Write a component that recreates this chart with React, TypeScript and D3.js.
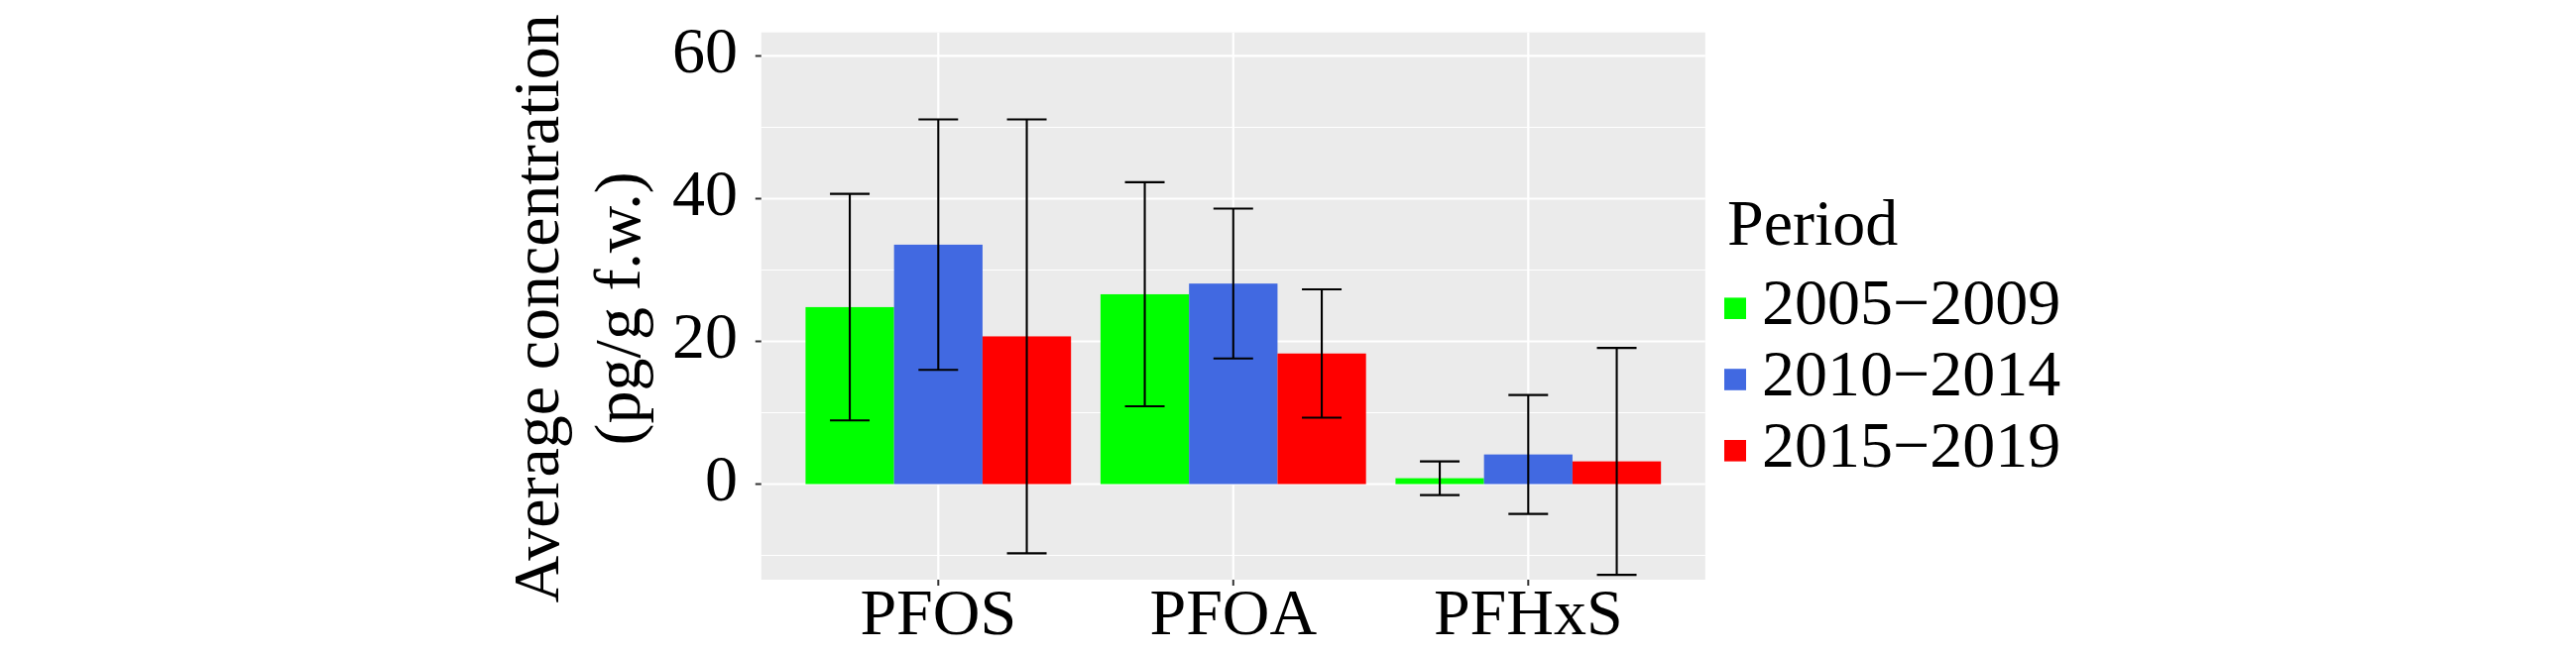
import React, { useEffect, useRef } from 'react';
import * as d3 from 'd3';

const compounds = ['PFOS', 'PFOA', 'PFHxS'];
const periods = ['2005\u22122009', '2010\u22122014', '2015\u22122019'];
const periodColors = ['#00FF00', '#4169E1', '#FF0000'];

// mean concentration per compound, one array per period
const mean2005 = [24.8, 26.6, 0.82];
const mean2010 = [33.55, 28.1, 4.15];
const mean2015 = [20.7, 18.3, 3.18];

// standard deviation (error bars are mean +/- sd)
const sd2005 = [15.87, 15.7, 2.36];
const sd2010 = [17.55, 10.5, 8.33];
const sd2015 = [30.4, 9.0, 15.9];

const yMajorTicks = [0, 20, 40, 60];
const yMinorTicks = [-10, 10, 30, 50];

const App: React.FC = () => {
    const ref = useRef<SVGSVGElement>(null);

    useEffect(() => {
        const svg = d3.select(ref.current);
        svg.selectAll('*').remove();

        const font = '"Liberation Serif", "Times New Roman", Times, serif';
        const fs = 66;

        const left = 767.8, right = 1719.8, top = 32.7, bottom = 585;

        const means = [mean2005, mean2010, mean2015];
        const sds = [sd2005, sd2010, sd2015];
        const rows = compounds.flatMap((c, ci) =>
            periods.map((p, pi) => ({ compound: c, period: p, pi, mean: means[pi][ci], sd: sds[pi][ci] })));

        const x = d3.scaleBand<string>().domain(compounds).range([left, right])
            .paddingInner(0.1).paddingOuter(0.15);
        const xSub = d3.scaleBand<string>().domain(periods).range([0, x.bandwidth()]);
        const y = d3.scaleLinear().domain([-13.4, 63.3]).range([bottom, top]);

        // panel
        svg.append('rect')
            .attr('x', left).attr('y', top)
            .attr('width', right - left).attr('height', bottom - top)
            .attr('fill', '#EBEBEB');

        svg.append('g').selectAll('line').data(yMinorTicks).enter().append('line')
            .attr('x1', left).attr('x2', right)
            .attr('y1', d => y(d)).attr('y2', d => y(d))
            .attr('stroke', '#fff').attr('stroke-width', 1.1);

        svg.append('g').selectAll('line').data(yMajorTicks).enter().append('line')
            .attr('x1', left).attr('x2', right)
            .attr('y1', d => y(d)).attr('y2', d => y(d))
            .attr('stroke', '#fff').attr('stroke-width', 2.2);

        svg.append('g').selectAll('line').data(compounds).enter().append('line')
            .attr('x1', d => x(d)! + x.bandwidth() / 2).attr('x2', d => x(d)! + x.bandwidth() / 2)
            .attr('y1', top).attr('y2', bottom)
            .attr('stroke', '#fff').attr('stroke-width', 2.2);

        // bars
        svg.append('g').selectAll('rect').data(rows).enter().append('rect')
            .attr('x', d => x(d.compound)! + xSub(d.period)!)
            .attr('width', xSub.bandwidth())
            .attr('y', d => y(d.mean))
            .attr('height', d => y(0) - y(d.mean))
            .attr('fill', d => periodColors[d.pi]);

        // error bars
        const capHalf = xSub.bandwidth() * 0.224;
        const eb = svg.append('g').selectAll('g').data(rows).enter().append('g')
            .attr('stroke', '#000').attr('stroke-width', 2.1);
        const cx = (d: any) => x(d.compound)! + xSub(d.period)! + xSub.bandwidth() / 2;
        eb.append('line')
            .attr('x1', cx).attr('x2', cx)
            .attr('y1', d => y(d.mean + d.sd)).attr('y2', d => y(d.mean - d.sd));
        eb.append('line')
            .attr('x1', d => cx(d) - capHalf).attr('x2', d => cx(d) + capHalf)
            .attr('y1', d => y(d.mean + d.sd)).attr('y2', d => y(d.mean + d.sd));
        eb.append('line')
            .attr('x1', d => cx(d) - capHalf).attr('x2', d => cx(d) + capHalf)
            .attr('y1', d => y(d.mean - d.sd)).attr('y2', d => y(d.mean - d.sd));

        // y axis
        const yAxis = svg.append('g');
        yAxis.selectAll('line').data(yMajorTicks).enter().append('line')
            .attr('x1', left - 6).attr('x2', left)
            .attr('y1', d => y(d)).attr('y2', d => y(d))
            .attr('stroke', '#333').attr('stroke-width', 2);
        yAxis.selectAll('text').data(yMajorTicks).enter().append('text')
            .attr('x', 744).attr('y', d => y(d) + 16.5)
            .attr('text-anchor', 'end')
            .attr('font-family', font).attr('font-size', fs)
            .attr('fill', '#000')
            .text(d => d);

        // x axis
        const xAxis = svg.append('g');
        xAxis.selectAll('line').data(compounds).enter().append('line')
            .attr('x1', d => x(d)! + x.bandwidth() / 2).attr('x2', d => x(d)! + x.bandwidth() / 2)
            .attr('y1', bottom).attr('y2', bottom + 6)
            .attr('stroke', '#333').attr('stroke-width', 2);
        xAxis.selectAll('text').data(compounds).enter().append('text')
            .attr('x', d => x(d)! + x.bandwidth() / 2).attr('y', 640)
            .attr('text-anchor', 'middle')
            .attr('font-family', font).attr('font-size', fs)
            .attr('fill', '#000')
            .text(d => d);

        // y title
        const midY = (top + bottom) / 2 + 2.5;
        svg.append('text')
            .attr('transform', `translate(563.3, ${midY}) rotate(-90)`)
            .attr('text-anchor', 'middle')
            .attr('font-family', font).attr('font-size', fs)
            .text('Average concentration');
        svg.append('text')
            .attr('transform', `translate(645, ${midY}) rotate(-90)`)
            .attr('text-anchor', 'middle')
            .attr('font-family', font).attr('font-size', fs)
            .text('(pg/g f.w.)');

        // legend
        const legend = svg.append('g');
        legend.append('text')
            .attr('x', 1742).attr('y', 246.7)
            .attr('font-family', font).attr('font-size', fs)
            .text('Period');
        const items = legend.selectAll('g.item').data(periods).enter().append('g')
            .attr('class', 'item')
            .attr('transform', (_d, i) => `translate(0, ${311.2 + i * 71.8})`);
        items.append('rect')
            .attr('x', 1739).attr('y', -10.8)
            .attr('width', 22).attr('height', 21.6)
            .attr('fill', (_d, i) => periodColors[i]);
        items.append('text')
            .attr('x', 1777).attr('y', 16)
            .attr('font-family', font).attr('font-size', fs)
            .text(d => d);
    }, []);

    return (
        <svg ref={ref} width={2598} height={661}
            style={{ position: 'absolute', left: 0, top: 0, background: '#fff' }} />
    );
};

export default App;
